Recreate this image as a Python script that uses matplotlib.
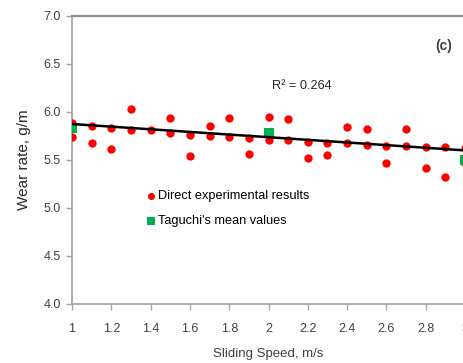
import numpy as np
import matplotlib
matplotlib.use("Agg")
import matplotlib.pyplot as plt

# Data
exp_speed = [1.0, 1.0, 1.1, 1.1, 1.2, 1.2, 1.3, 1.3, 1.4, 1.5, 1.5,
             1.6, 1.6, 1.7, 1.7, 1.8, 1.8, 1.9, 1.9, 2.0, 2.0,
             2.1, 2.1, 2.2, 2.2, 2.3, 2.3, 2.4, 2.4, 2.5, 2.5,
             2.6, 2.6, 2.7, 2.7, 2.8, 2.8, 2.9, 2.9, 3.0, 3.0]
exp_wear = [5.89, 5.74, 5.85, 5.68, 5.83, 5.61, 6.03, 5.81, 5.81, 5.94, 5.78,
            5.76, 5.54, 5.85, 5.75, 5.94, 5.74, 5.73, 5.56, 5.95, 5.71,
            5.93, 5.71, 5.69, 5.52, 5.68, 5.55, 5.84, 5.68, 5.82, 5.66,
            5.65, 5.47, 5.82, 5.65, 5.64, 5.42, 5.64, 5.32, 5.62, 5.47]
taguchi_speed = [1.0, 2.0, 3.0]
taguchi_wear = [5.83, 5.78, 5.50]
trend_ends = [5.875, 5.60]   # linear trend line values at x=1 and x=3
r2_text = "R² = 0.264"
x_ticks = [1, 1.2, 1.4, 1.6, 1.8, 2, 2.2, 2.4, 2.6, 2.8, 3]
x_ticklabels = ["1", "1.2", "1.4", "1.6", "1.8", "2", "2.2", "2.4", "2.6", "2.8", "3"]
y_ticks = [4.0, 4.5, 5.0, 5.5, 6.0, 6.5, 7.0]

plt.rcParams['font.family'] = ['Liberation Sans', 'DejaVu Sans']

fig = plt.figure(figsize=(4.64, 3.63), dpi=100)
W, H = 464, 363
ax = fig.add_axes([72 / W, (H - 304) / H, (465 - 72) / W, 288 / H])

ax.scatter(exp_speed, exp_wear, s=36, color='#ff0000', marker='o',
           linewidths=0, zorder=3, label='Direct experimental results')
ax.scatter(taguchi_speed, taguchi_wear, s=44, color='#00b050', marker='s',
           linewidths=0, zorder=4, label="Taguchi's mean values")
ax.plot([1, 3], trend_ends, color='black', lw=1.8, zorder=5)

ax.set_xlim(1, 3)
ax.set_ylim(4.0, 7.0)
ax.set_xticks(x_ticks)
ax.set_xticklabels(x_ticklabels)
ax.set_yticks(y_ticks)
ax.set_yticklabels([f"{v:.1f}" for v in y_ticks])

grey = '#a6a6a6'
for side in ['left', 'bottom']:
    ax.spines[side].set_color(grey)
    ax.spines[side].set_linewidth(1.3)
ax.spines['top'].set_color('#8c8c8c')
ax.spines['top'].set_linewidth(1.6)
ax.spines['right'].set_visible(False)
ax.tick_params(axis='both', direction='out', length=4, width=1, color=grey,
               labelsize=9, labelcolor='#404040')
ax.tick_params(axis='x', pad=10)
ax.tick_params(axis='y', pad=4)

ax.set_xlabel('Sliding Speed, m/s', fontsize=9.5, color='#404040', labelpad=9)
ax.set_ylabel('Wear rate, g/m', fontsize=11, color='#262626', labelpad=9)

ax.text(272 / W, 1 - 86 / H, r2_text, transform=fig.transFigure,
        fontsize=9.2, color='#262626', va='center', ha='left')
ax.text(444 / W, 1 - 46 / H, '(c)', transform=fig.transFigure,
        fontsize=10, fontweight='bold', color='#404040', va='center', ha='center')

ax.legend(loc='upper left', bbox_to_anchor=(146 / W, 1 - 190 / H),
          bbox_transform=fig.transFigure, frameon=False, fontsize=9.2,
          handletextpad=0.1, handlelength=0.85, labelspacing=1.05,
          borderaxespad=0, borderpad=0, markerscale=0.85)

fig.savefig('out.png', dpi=100)
